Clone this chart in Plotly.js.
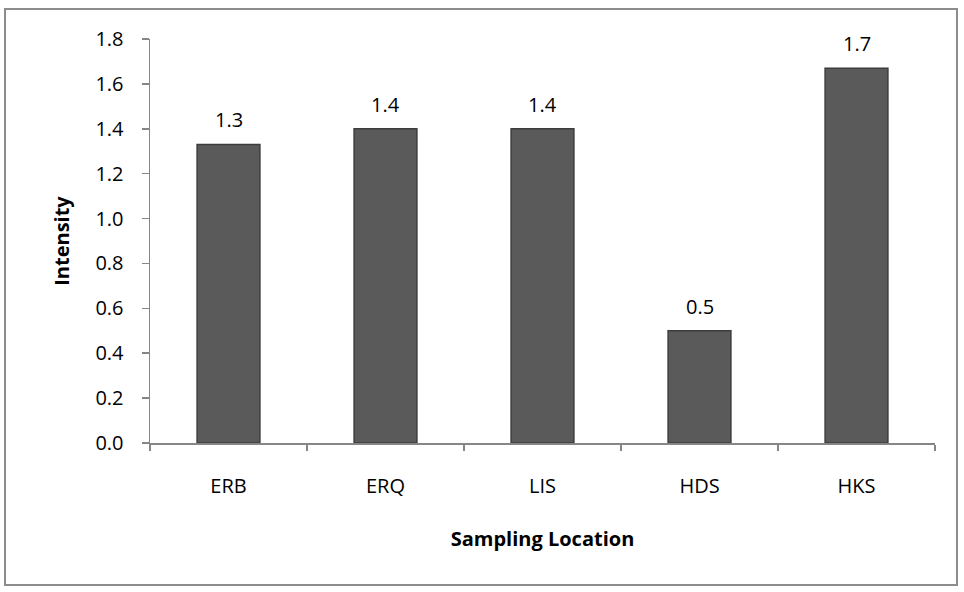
<!DOCTYPE html>
<html>
<head>
<meta charset="utf-8">
<script src="https://cdn.plot.ly/plotly-3.0.1.min.js"></script>
<style>html,body{margin:0;padding:0;background:#fff;}#chart{width:964px;height:592px;}</style>
</head>
<body>
<div id="chart"></div>
<script>
const categories = ["ERB", "ERQ", "LIS", "HDS", "HKS"];
const intensity = [1.33, 1.40, 1.40, 0.50, 1.67];
const yTickVals = [0, 0.2, 0.4, 0.6, 0.8, 1.0, 1.2, 1.4, 1.6, 1.8];

const font = "Open Sans, Liberation Sans, sans-serif";

const trace = {
  type: "bar",
  x: categories,
  y: intensity,
  marker: { color: "#5a5a5a", line: { color: "#3c3c3c", width: 1.5 } },
  hoverinfo: "x+y"
};

const annotations = categories.map((c, i) => ({
  x: c, y: intensity[i], xref: "x", yref: "y",
  text: intensity[i].toFixed(1), showarrow: false,
  yanchor: "bottom", yshift: 9,
  font: { family: font, size: 20, color: "#000" }
}));

const layout = {
  width: 964, height: 592,
  margin: { l: 150, r: 29, t: 39, b: 149 },
  paper_bgcolor: "#fff", plot_bgcolor: "#fff",
  bargap: 0.6,
  showlegend: false,
  xaxis: {
    type: "category",
    showline: true, linecolor: "#868686", linewidth: 1.5,
    ticks: "outside", tickson: "boundaries", ticklen: 6, tickcolor: "#868686", tickwidth: 1.5,
    tickfont: { family: font, size: 20, color: "#000" },
    ticklabelstandoff: 24,
    showgrid: false, zeroline: false,
    title: { text: "<b>Sampling Location</b>", font: { family: font, size: 20, color: "#000" }, standoff: 34 }
  },
  yaxis: {
    range: [0, 1.8],
    tickvals: yTickVals, tickformat: ".1f",
    showline: true, linecolor: "#868686", linewidth: 1.5,
    ticks: "outside", ticklen: 7, tickcolor: "#868686", tickwidth: 1.5,
    tickfont: { family: font, size: 20, color: "#000" },
    ticklabelstandoff: 14,
    showgrid: false, zeroline: false,
    title: { text: "<b>Intensity</b>", font: { family: font, size: 20, color: "#000" }, standoff: 20 }
  },
  annotations: annotations,
  shapes: [{
    type: "rect", xref: "paper", yref: "paper",
    x0: -0.1847, x1: 1.028, y0: -0.3515, y1: 1.0743,
    line: { color: "#8c8c8c", width: 2 }, fillcolor: "rgba(0,0,0,0)", layer: "below"
  }]
};

Plotly.newPlot("chart", [trace], layout, { displayModeBar: false, staticPlot: true });
</script>
</body>
</html>
